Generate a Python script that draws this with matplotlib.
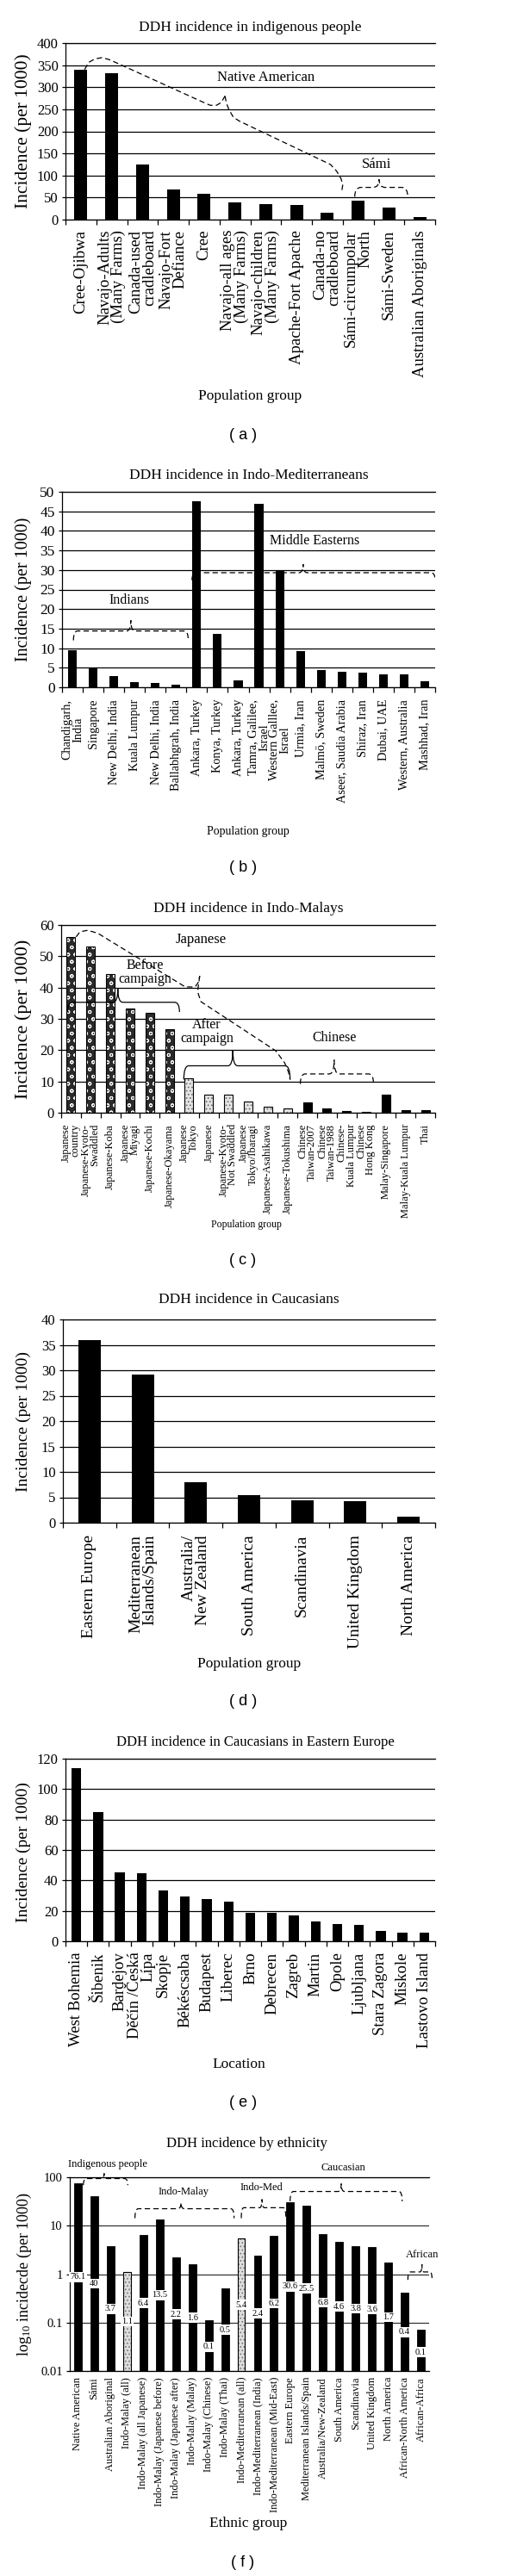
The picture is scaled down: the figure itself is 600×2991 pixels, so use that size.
import numpy as np
import matplotlib
matplotlib.use('Agg')
import matplotlib.pyplot as plt
from matplotlib.path import Path
from matplotlib.patches import PathPatch
from matplotlib.ticker import NullLocator

plt.rcParams['font.family'] = ['Liberation Serif', 'DejaVu Serif']
plt.rcParams['mathtext.fontset'] = 'custom'
plt.rcParams['mathtext.rm'] = 'Liberation Serif'
plt.rcParams['mathtext.it'] = 'Liberation Serif:italic'
plt.rcParams['hatch.linewidth'] = 0.7

# ---------------- data ----------------
a_labels = ["Cree-Ojibwa", "Navajo-Adults\n(Many Farms)", "Canada-used\ncradleboard",
            "Navajo-Fort\nDefiance", "Cree", "Navajo-all ages\n(Many Farms)",
            "Navajo-children\n(Many Farms)", "Apache-Fort Apache", "Canada-no\ncradleboard",
            "Sámi-circumpolar\nNorth", "Sámi-Sweden", "Australian Aboriginals"]
a_values = [340, 332, 125.5, 69, 59, 40, 35, 33, 15, 42, 27, 6.5]

b_labels = ["Chandigarh,\nIndia", "Singapore", "New Delhi, India", "Kuala Lumpur",
            "New Delhi, India", "Ballabhgrah, India", "Ankara, Turkey", "Konya, Turkey",
            "Ankara, Turkey", "Tamra, Galilee,\nIsrael", "Western Galllee,\nIsrael",
            "Urmia, Iran", "Malmö, Sweden", "Aseer, Saudia Arabia", "Shiraz, Iran",
            "Dubai, UAE", "Western, Australia", "Mashhad, Iran"]
b_values = [9.4, 4.8, 2.8, 1.3, 1.1, 0.6, 47.5, 13.6, 1.8, 47.0, 30.0, 9.3,
            4.5, 3.9, 3.75, 3.3, 3.2, 1.5]

c_labels = ["Japanese\ncountry", "Japanese-Kyoto-\nSwaddled", "Japanese-Koba",
            "Japanese\nMiyagi", "Japanese-Kochi", "Japanese-Okayama", "Japanese\nTokyo",
            "Japanese", "Japanese-Kyoto-\nNot Swaddled", "Japanese\nTokyo/Ibaragi",
            "Japanese-Asahikawa", "Japanese-Tokushima", "Chinese\nTaiwan-2007",
            "Chinese\nTaiwan-1988", "Chinese-\nKuala Lumpur", "Chinese\nHong Kong",
            "Malay-Singapore", "Malay-Kuala Lumpur", "Thai"]
c_values = [56.2, 53.1, 44.4, 33.2, 32.0, 26.7, 11.0, 5.9, 5.8, 3.6, 2.0, 1.5,
            3.2, 1.3, 0.6, 0.3, 5.7, 0.9, 0.7]
c_group = ["before"] * 6 + ["after"] * 6 + ["other"] * 7

d_labels = ["Eastern Europe", "Mediterranean\nIslands/Spain", "Australia/\nNew Zealand",
            "South America", "Scandinavia", "United Kingdom", "North America"]
d_values = [35.9, 29.2, 7.9, 5.35, 4.45, 4.2, 1.2]

e_labels = ["West Bohemia", "Šibenik", "Bardejov", "Děčín /Česká\nLípa", "Skopje",
            "Békéscsaba", "Budapest", "Liberec", "Brno", "Debrecen", "Zagreb", "Martin",
            "Opole", "Ljubljana", "Stara Zagora", "Miskole", "Lastovo Island"]
e_values = [114, 84.7, 45.3, 44.9, 33.5, 29.2, 27.8, 26.3, 18.9, 18.75, 17.0, 13.1,
            11.6, 10.6, 6.6, 5.9, 5.7]

f_labels = ["Native American", "Sámi", "Australian Aboriginal", "Indo-Malay (all)",
            "Indo-Malay (all Japanese)", "Indo-Malay (Japanese before)",
            "Indo-Malay (Japanese after)", "Indo-Malay (Malay)", "Indo-Malay (Chinese)",
            "Indo-Malay (Thai)", "Indo-Mediterranean (all)", "Indo-Mediterranean (India)",
            "Indo-Mediterranean (Mid-East)", "Eastern Europe", "Mediterranean Islands/Spain",
            "Australia/New-Zealand", "South America", "Scandinavia", "United Kingdom",
            "North America", "African-North America", "African-Africa"]
f_values = [76.1, 40, 3.7, 1.1, 6.4, 13.5, 2.2, 1.6, 0.1, 0.5, 5.4, 2.4, 6.2, 30.6,
            25.5, 6.8, 4.6, 3.8, 3.6, 1.7, 0.4, 0.06]
f_value_labels = ["76.1", "40", "3.7", "1.1", "6.4", "13.5", "2.2", "1.6", "0.1", "0.5",
                  "5.4", "2.4", "6.2", "30.6", "25.5", "6.8", "4.6", "3.8", "3.6", "1.7",
                  "0.4", "0.1"]
f_is_group_all = [False, False, False, True, False, False, False, False, False, False,
                  True, False, False, False, False, False, False, False, False, False,
                  False, False]

# ---------------- figure ----------------
W, H = 600, 2991
fig = plt.figure(figsize=(W / 100, H / 100), dpi=100)
DASH = (0, (5, 3))


def add_ax(l, t, r, b):
    return fig.add_axes([l / W, 1 - b / H, (r - l) / W, (b - t) / H])


def ftext(x, y, s, **kw):
    fig.text(x / W, 1 - y / H, s, **kw)


def style(ax, n, ylim, yticks, ytick_fs, labels, xfs, ls, pad, ma, boundary=True):
    ax.set_xlim(-0.5, n - 0.5)
    ax.set_ylim(*ylim)
    ax.set_yticks(yticks)
    ax.yaxis.grid(True, color='black', lw=0.9)
    ax.set_axisbelow(True)
    ax.spines['right'].set_visible(False)
    for s in ['left', 'bottom', 'top']:
        ax.spines[s].set_color('black')
        ax.spines[s].set_linewidth(0.9)
    ax.tick_params(axis='y', direction='out', length=3, width=0.9, pad=3,
                   labelsize=ytick_fs)
    ax.set_xticks(range(n))
    ax.set_xticklabels(labels, rotation=90, fontsize=xfs, linespacing=ls,
                       ha='center', va='top', multialignment=ma)
    ax.tick_params(axis='x', which='major', length=0, pad=pad)
    if boundary:
        ax.set_xticks(np.arange(-0.5, n), minor=True)
        ax.tick_params(axis='x', which='minor', length=4, width=0.9, direction='out')


def brace(ax, x0, x1, y_end, y_mid, tx, ty, dashed=True, d=0.2, clip=True, lw=0.9):
    d = min(d, (x1 - x0) / 4)
    verts = [(x0, y_end), (x0, y_mid), (x0 + d, y_mid),
             (tx - d, y_mid), (tx, y_mid), (tx, ty),
             (tx, y_mid), (tx + d, y_mid),
             (x1 - d, y_mid), (x1, y_mid), (x1, y_end)]
    codes = [Path.MOVETO, Path.CURVE3, Path.CURVE3, Path.LINETO, Path.CURVE3, Path.CURVE3,
             Path.CURVE3, Path.CURVE3, Path.LINETO, Path.CURVE3, Path.CURVE3]
    p = PathPatch(Path(verts, codes), fill=False, lw=lw, ec='black',
                  linestyle=DASH if dashed else '-', zorder=5, clip_on=clip)
    ax.add_patch(p)


def ylab(y_center, s, fs, x=27):
    ftext(x, y_center, s, rotation=90, ha='center', va='center', fontsize=fs)


def panel_letter(y, s):
    ftext(282, y, s, ha='center', va='center', fontsize=13, family='Liberation Sans')


# ---------- (a) ----------
ax = add_ax(76, 50, 505, 255)
n = len(a_values)
ax.bar(range(n), a_values, width=0.42, color='black', zorder=2)
style(ax, n, (0, 400), np.arange(0, 401, 50), 12, a_labels, 13.5, 0.92, 8.6, 'right')
na1 = [(0.12, 340), (0.25, 356), (0.45, 364), (0.68, 367), (0.9, 363), (1.1, 357),
       (4.0, 265), (4.2, 259), (4.4, 259), (4.55, 265), (4.68, 280)]
na2 = [(4.68, 280), (4.72, 265), (4.8, 250), (4.95, 232), (5.15, 223), (8.1, 125),
       (8.3, 110), (8.45, 92), (8.5, 78), (8.47, 65)]
for seg in (na1, na2):
    xs, ys = zip(*seg)
    ax.plot(xs, ys, color='black', lw=0.9, linestyle=DASH, zorder=5)
brace(ax, 8.89, 10.61, 52, 73, 9.68, 91)
ax.text(6.0, 322, "Native American", ha='center', va='center', fontsize=12)
ax.text(9.59, 124, "Sámi", ha='center', va='center', fontsize=12)
ftext(290.5, 32, "DDH incidence in indigenous people", ha='center', va='center', fontsize=12.5)
ylab(152, "Incidence (per 1000)", 15.5)
ftext(290, 460, "Population group", ha='center', va='center', fontsize=12.5)
panel_letter(505, "( a )")

# ---------- (b) ----------
ax = add_ax(72, 571, 505, 798)
n = len(b_values)
ax.bar(range(n), b_values, width=0.42, color='black', zorder=2)
style(ax, n, (0, 50), np.arange(0, 51, 5), 12.5, b_labels, 10.3, 1.0, 10, 'center')
brace(ax, 0.05, 5.59, 12, 14.4, 2.82, 17.1)
brace(ax, 5.77, 17.5, 27.4, 29.3, 11.13, 31.5)
ax.text(2.75, 22.3, "Indians", ha='center', va='center', fontsize=11.5)
ax.text(11.7, 37.4, "Middle Easterns", ha='center', va='center', fontsize=11.5)
ftext(288.5, 552, "DDH incidence in Indo-Mediterraneans", ha='center', va='center', fontsize=12.5)
ylab(684, "Incidence (per 1000)", 14.5)
ftext(288, 965, "Population group", ha='center', va='center', fontsize=10)
panel_letter(1008, "( b )")

# ---------- (c) ----------
ax = add_ax(71, 1074, 505, 1292)
n = len(c_values)
xs = np.arange(n)
cv = np.array(c_values)
cg = np.array(c_group)
for g, fc, hc, hatch in [("before", '#2a2a2a', 'white', 'oo'),
                         ("after", '#e4e4e4', '#666666', '....'),
                         ("other", 'black', 'black', None)]:
    m = cg == g
    ax.bar(xs[m], cv[m], width=0.44, color=fc, edgecolor=hc, hatch=hatch, lw=0, zorder=2)
    ax.bar(xs[m], cv[m], width=0.44, fill=False, edgecolor='black', lw=0.8, zorder=3)
style(ax, n, (0, 60), np.arange(0, 61, 10), 12, c_labels, 9, 0.85, 9.4, 'right')
jp = [(0.26, 56.2), (0.45, 57.8), (0.84, 58.3), (1.35, 57.4), (5.6, 41), (5.8, 40.2),
      (6.3, 40.2), (6.45, 41.5), (6.54, 43.7)]
jp2 = [(6.54, 43.7), (6.48, 41), (6.43, 38.7), (6.6, 35.5), (10.4, 19.8), (10.85, 16),
       (11.05, 13), (11.13, 10.6)]
for seg in (jp, jp2):
    sx, sy = zip(*seg)
    ax.plot(sx, sy, color='black', lw=0.9, linestyle=DASH, zorder=5)
brace(ax, -0.18, 5.51, 32.2, 35.3, 2.38, 39.6, dashed=False, d=0.25)
brace(ax, 5.73, 11.13, 10.6, 15, 8.22, 19.8, dashed=False, d=0.25)
brace(ax, 11.65, 15.37, 9.2, 12.4, 13.37, 16.9, d=0.25)
ax.text(6.6, 55.2, "Japanese", ha='center', va='center', fontsize=12)
ax.text(3.76, 44.8, "Before\ncampaign", ha='center', va='center', fontsize=11.5, linespacing=1.0)
ax.text(6.9, 25.8, "After\ncampaign", ha='center', va='center', fontsize=11.5, linespacing=1.0)
ax.text(13.4, 23.9, "Chinese", ha='center', va='center', fontsize=11.5)
ftext(288, 1055, "DDH incidence in Indo-Malays", ha='center', va='center', fontsize=12.5)
ylab(1183, "Incidence (per 1000)", 16)
ftext(286, 1422, "Population group", ha='center', va='center', fontsize=8.5)
panel_letter(1463, "( c )")

# ---------- (d) ----------
ax = add_ax(73, 1532, 505, 1768)
n = len(d_values)
ax.bar(range(n), d_values, width=0.42, color='black', zorder=2)
style(ax, n, (0, 40), np.arange(0, 41, 5), 12, d_labels, 14, 0.9, 10, 'right')
ftext(289, 1509, "DDH incidence in Caucasians", ha='center', va='center', fontsize=12.5)
ylab(1650, "Incidence (per 1000)", 14)
ftext(289, 1932, "Population group", ha='center', va='center', fontsize=12.5)
panel_letter(1975, "( d )")

# ---------- (e) ----------
ax = add_ax(76, 2042, 505, 2254)
n = len(e_values)
ax.bar(range(n), e_values, width=0.45, color='black', zorder=2)
style(ax, n, (0, 120), np.arange(0, 121, 20), 12, e_labels, 13.5, 0.87, 9, 'right')
ftext(296, 2023, "DDH incidence in Caucasians in Eastern Europe", ha='center', va='center', fontsize=12)
ylab(2150, "Incidence (per 1000)", 14)
ftext(277, 2397, "Location", ha='center', va='center', fontsize=12.5)
panel_letter(2442, "( e )")

# ---------- (f) ----------
ax = add_ax(81, 2528, 498, 2753)
n = len(f_values)
fv = np.array(f_values)
gm = np.array(f_is_group_all)
xs = np.arange(n)
ax.set_yscale('log')
ax.bar(xs[~gm], fv[~gm], bottom=0.01, width=0.47, color='black', edgecolor='black', lw=0.6, zorder=2)
ax.bar(xs[gm], fv[gm], bottom=0.01, width=0.47, color='#dcdcdc', edgecolor='#777777',
       hatch='....', lw=0, zorder=2)
ax.bar(xs[gm], fv[gm], bottom=0.01, width=0.47, fill=False, edgecolor='black', lw=0.8, zorder=3)
style(ax, n, (0.01, 100), [0.01, 0.1, 1, 10, 100], 10.5, f_labels, 9, 1.0, 5, 'right',
      boundary=False)
ax.yaxis.set_minor_locator(NullLocator())
ax.set_yticklabels(["0.01", "0.1", "1", "10", "100"])
ax.yaxis.grid(True, color='#333333', lw=0.9)
for i, (v, s) in enumerate(zip(f_values, f_value_labels)):
    ax.text(i, np.sqrt(0.01 * v), s, ha='center', va='center', fontsize=7.5, zorder=6,
            bbox=dict(boxstyle='square,pad=0.12', fc='white', ec='none'))
brace(ax, 0.33, 3.05, 68.6, 94, 1.6, 120, clip=False)
brace(ax, 3.49, 9.56, 14.3, 22.4, 6.31, 30)
brace(ax, 10.0, 12.73, 14.3, 23.5, 11.27, 35, d=0.15)
brace(ax, 12.99, 19.85, 32, 50.8, 16.12, 73.6)
brace(ax, 20.2, 21.68, 0.76, 1.11, 21.06, 1.6, d=0.12, clip=False)
for tx, ty, s in [(1.82, 183, "Indigenous people"), (6.46, 49, "Indo-Malay"),
                  (11.23, 60, "Indo-Med"), (16.24, 156, "Caucasian"), (21.06, 2.5, "African")]:
    ax.text(tx, ty, s, ha='center', va='center', fontsize=9, clip_on=False, zorder=6)
ftext(286, 2489, "DDH incidence by ethnicity", ha='center', va='center', fontsize=12)
ylab(2641, "log$_{10}$ incidecde (per 1000)", 13, x=28)
ftext(288, 2930, "Ethnic group", ha='center', va='center', fontsize=12.5)
panel_letter(2975, "( f )")

fig.savefig("out.png", dpi=100)
